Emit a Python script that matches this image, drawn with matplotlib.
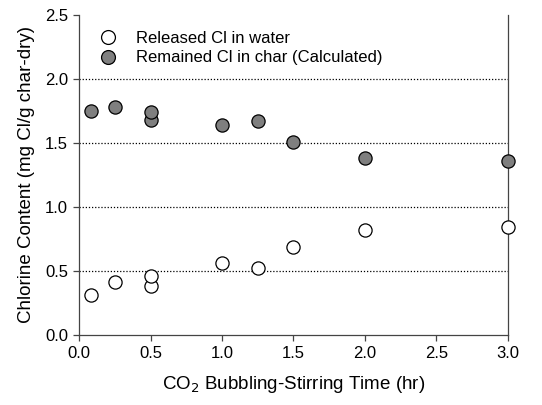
import numpy as np
import matplotlib
matplotlib.use("Agg")
import matplotlib.pyplot as plt

plt.rcParams['font.family'] = ['Liberation Sans', 'DejaVu Sans']

# bubbling-stirring time (hr)
time_hr = [0.083, 0.25, 0.5, 0.5, 1.0, 1.25, 1.5, 2.0, 3.0]
# Cl released into water (mg Cl/g char-dry)
released = [0.31, 0.41, 0.38, 0.46, 0.56, 0.52, 0.69, 0.82, 0.84]
# Cl remaining in char, calculated
remained = [1.75, 1.78, 1.68, 1.74, 1.64, 1.67, 1.51, 1.38, 1.36]

fig = plt.figure(figsize=(5.42, 4.05), dpi=100)
ax = fig.add_axes([0.146, 0.173, 0.791, 0.79])

for y in [0.5, 1.0, 1.5, 2.0]:
    ax.axhline(y, color='black', linestyle=(0, (1, 1.5)), linewidth=0.9, zorder=1)

ax.plot(time_hr, released, 'o', markersize=9.5, markerfacecolor='white',
        markeredgecolor='black', markeredgewidth=0.9, linestyle='none',
        label='Released Cl in water', zorder=3, clip_on=False)
ax.plot(time_hr, remained, 'o', markersize=9.5, markerfacecolor='#7f7f7f',
        markeredgecolor='black', markeredgewidth=0.9, linestyle='none',
        label='Remained Cl in char (Calculated)', zorder=3, clip_on=False)

ax.set_xlim(0, 3.0)
ax.set_ylim(0, 2.5)
ax.set_xticks(np.arange(0, 3.01, 0.5))
ax.set_yticks(np.arange(0, 2.51, 0.5))
ax.xaxis.set_major_formatter(matplotlib.ticker.FormatStrFormatter('%.1f'))
ax.yaxis.set_major_formatter(matplotlib.ticker.FormatStrFormatter('%.1f'))

ax.spines['top'].set_visible(False)
for s in ['left', 'bottom', 'right']:
    ax.spines[s].set_linewidth(0.9)
    ax.spines[s].set_color('#444444')
ax.tick_params(direction='out', length=4, width=0.9, labelsize=12,
               color='#444444', labelcolor='black', pad=4)
ax.tick_params(axis='y', right=False)

ax.set_xlabel('CO$_2$ Bubbling-Stirring Time (hr)', fontsize=13.5, labelpad=9)
ax.set_ylabel('Chlorine Content (mg Cl/g char-dry)', fontsize=13.5, labelpad=7)

ax.legend(loc='upper left', frameon=False, fontsize=12, handletextpad=0.65,
          borderaxespad=0.0, bbox_to_anchor=(0.014, 0.97), labelspacing=0.25,
          markerscale=1.05)

fig.savefig('out.png', dpi=100)
